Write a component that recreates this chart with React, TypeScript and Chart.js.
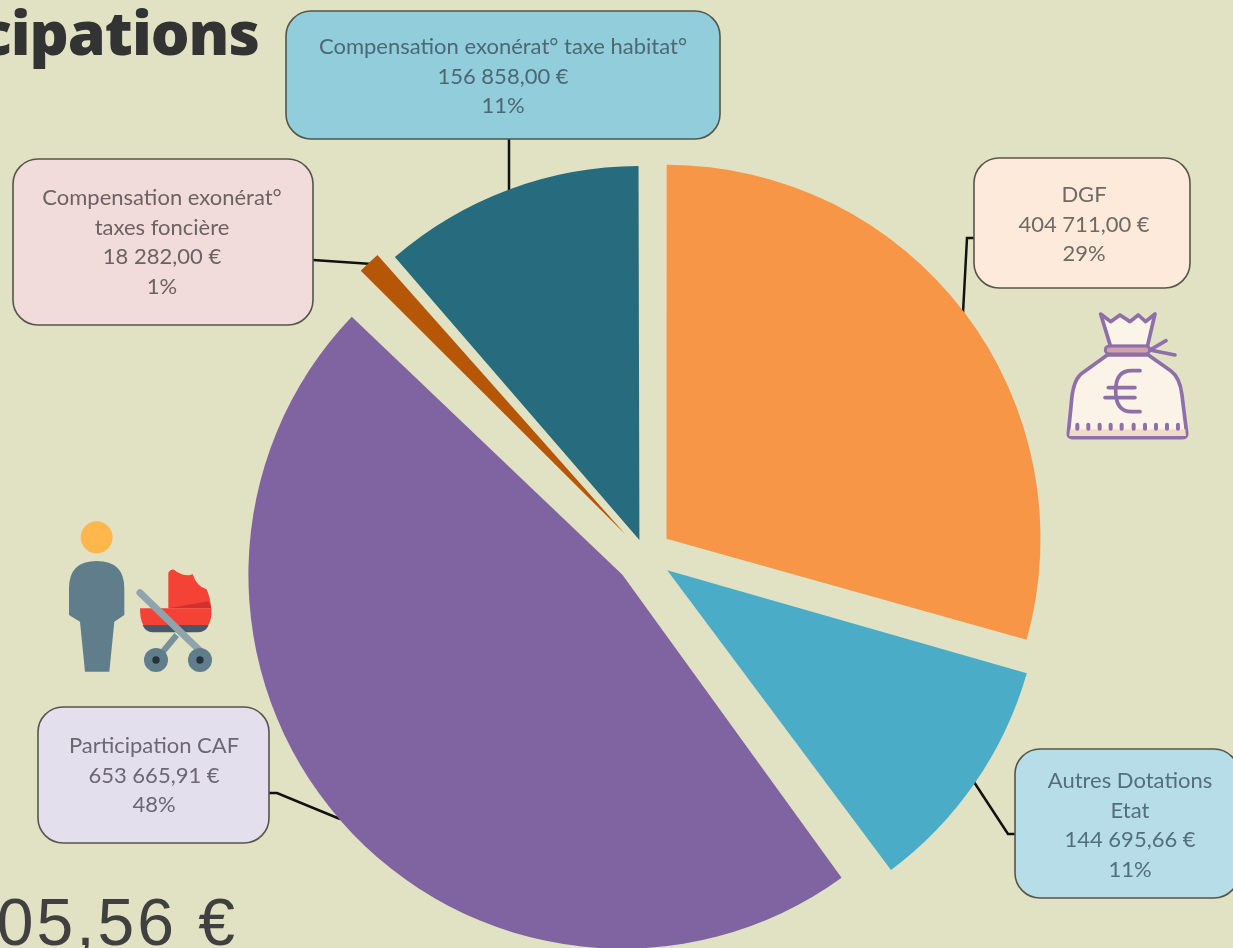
import React, { useEffect, useRef } from "react";
import { Chart, registerables } from "chart.js";

Chart.register(...registerables);

const categories = ["DGF", "Autres Dotations Etat", "Participation CAF", "Compensation exonérat° taxes foncière", "Compensation exonérat° taxe habitat°"];
const values = [404711.0, 144695.66, 653665.91, 18282.0, 156858.0];
const valueLabels = ["404 711,00 €", "144 695,66 €", "653 665,91 €", "18 282,00 €", "156 858,00 €"];
const percentLabels = ["29%", "11%", "48%", "1%", "11%"];
const nameLines = [["DGF"], ["Autres Dotations", "Etat"], ["Participation CAF"], ["Compensation exonérat°", "taxes foncière"], ["Compensation exonérat° taxe habitat°"]];
const sliceColors = ["#f79646", "#4bacc7", "#8064a2", "#b65708", "#266b7e"];
const sliceShift = [27, 27, 30, 28, 16];
const titleText = "cipations";
const totalText = "05,56 €";

const PIE_RADIUS = 374;
const BG = "#e0e2c3";

const boxes = [
  { x: 974, y: 158, w: 216, h: 130, cx: 1084, y0: 195, fill: "#fdeada", ink: "#6f6a64" },
  { x: 1015, y: 749, w: 224, h: 149, cx: 1130, y0: 781, fill: "#b7dde8", ink: "#536f7d" },
  { x: 38, y: 707, w: 231, h: 136, cx: 154, y0: 746, fill: "#e4dfec", ink: "#6b6773" },
  { x: 13, y: 159, w: 300, h: 166, cx: 162, y0: 198, fill: "#f2dcdb", ink: "#6c6262" },
  { x: 286, y: 11, w: 434, h: 128, cx: 503, y0: 47, fill: "#92cddc", ink: "#4c6874" },
];

const leaders = [
  [[975, 238], [967, 238], [963, 313]],
  [[974, 782], [1008, 834], [1015, 834]],
  [[269, 793], [277, 793], [340, 819]],
  [[313, 260], [372, 264]],
  [[509, 139], [509, 190]],
];

const callouts = {
  id: "callouts",
  beforeDraw(chart: any) {
    const { ctx, width, height } = chart;
    ctx.save();
    ctx.fillStyle = BG;
    ctx.fillRect(0, 0, width, height);
    ctx.restore();
  },
  beforeDatasetsDraw(chart: any) {
    // Chart.js widens offset arcs; keep every slice at the same radius.
    chart.getDatasetMeta(0).data.forEach((arc: any) => {
      const shift = arc.options.offset / 4;
      const fix = 1 - Math.sin(Math.min(Math.PI, arc.circumference));
      arc.outerRadius = PIE_RADIUS - shift * fix;
    });
    const { ctx } = chart;
    ctx.save();
    ctx.strokeStyle = "#111";
    ctx.lineWidth = 2.5;
    leaders.forEach((pts) => {
      ctx.beginPath();
      pts.forEach(([x, y], i) => (i ? ctx.lineTo(x, y) : ctx.moveTo(x, y)));
      ctx.stroke();
    });
    ctx.restore();
  },
  afterDatasetsDraw(chart: any) {
    const { ctx } = chart;
    ctx.save();
    boxes.forEach((b, i) => {
      ctx.beginPath();
      ctx.roundRect(b.x, b.y, b.w, b.h, 25);
      ctx.fillStyle = b.fill;
      ctx.fill();
      ctx.lineWidth = 1.6;
      ctx.strokeStyle = "#55564a";
      ctx.stroke();
      const lines = [...nameLines[i], valueLabels[i], percentLabels[i]];
      ctx.fillStyle = b.ink;
      ctx.font = "22px Lato";
      ctx.textAlign = "center";
      ctx.textBaseline = "middle";
      lines.forEach((t, k) => ctx.fillText(t, b.cx, b.y0 + k * 29.5));
    });
    ctx.textAlign = "right";
    ctx.textBaseline = "alphabetic";
    ctx.fillStyle = "#333333";
    ctx.font = '800 61px "Open Sans"';
    (ctx as any).letterSpacing = "-1px";
    ctx.fillText(titleText, 259, 55);
    ctx.fillStyle = "#404040";
    ctx.font = '400 66px "Liberation Sans"';
    (ctx as any).letterSpacing = "3px";
    ctx.fillText(totalText, 238, 945);
    (ctx as any).letterSpacing = "0px";
    ctx.restore();
  },
};

function MoneyBag() {
  const purple = "#8f6fa9";
  const dots = [382, 415, 449, 482, 515, 551, 585, 618, 651, 684];
  return (
    <g transform="translate(950 140) scale(0.3333)">
      <path d="M452 522 L482 545 L510 525 L540 545 L565 525 L587 545 L615 522 L592 620 H482 Z" fill="#fbf5e8" stroke={purple} strokeWidth={11} strokeLinejoin="round" />
      <path d="M600 630 L648 602 M600 630 L675 645" stroke={purple} strokeWidth={11} strokeLinecap="round" fill="none" />
      <path d="M472 645 L392 703 Q368 725 364 790 L355 880 Q354 893 368 893 H698 Q712 893 710 878 L696 765 Q690 712 662 692 L595 645 Z" fill="#fbf3e7" stroke={purple} strokeWidth={11} strokeLinejoin="round" />
      <path d="M360 868 H706 L708 888 H358 Z" fill="#efdcc6" />
      <rect x={466} y={618} width={133} height={24} rx={12} fill="#cfa1aa" stroke={purple} strokeWidth={9} />
      <path d="M570 692 H545 Q497 692 497 752 Q497 815 545 815 H570 M475 743 H555 M465 773 H555" stroke={purple} strokeWidth={11} strokeLinecap="round" fill="none" />
      {dots.map((x) => (
        <rect key={x} x={x - 6} y={848} width={12} height={24} rx={6} fill={purple} />
      ))}
    </g>
  );
}

function Stroller() {
  return (
    <g transform="translate(0 500) scale(0.3333)">
      <circle cx={290} cy={112} r={48} fill="#ffb74d" />
      <path d="M207 345 V265 Q207 183 290 183 Q373 183 373 265 V345 L343 365 L328 515 H255 L240 365 Z" fill="#607d8b" />
      <path d="M505 218 Q515 200 530 215 Q560 232 578 222 Q590 260 620 268 Q630 290 634 325 H505 Z" fill="#f44336" />
      <path d="M505 325 L626 304 L634 325 Z" fill="#d32f2f" />
      <path d="M420 325 H634 Q636 360 625 375 H430 Q420 360 420 325 Z" fill="#f44336" />
      <path d="M428 375 H626 Q618 397 595 397 H458 Q436 397 428 375 Z" fill="#455a64" />
      <path d="M530 405 L468 480" stroke="#78909c" strokeWidth={18} />
      <path d="M420 278 L600 452" stroke="#90a4ae" strokeWidth={21} strokeLinecap="round" />
      <circle cx={468} cy={480} r={36} fill="#607d8b" />
      <circle cx={468} cy={480} r={11} fill="#263238" />
      <circle cx={600} cy={480} r={36} fill="#607d8b" />
      <circle cx={600} cy={480} r={11} fill="#263238" />
    </g>
  );
}

export default function App() {
  const ref = useRef<HTMLCanvasElement>(null);
  useEffect(() => {
    const chart = new Chart(ref.current!, {
      type: "pie",
      data: {
        labels: categories,
        datasets: [
          {
            data: values,
            backgroundColor: sliceColors,
            borderWidth: 0,
            offset: sliceShift.map((s) => s * 4),
            radius: PIE_RADIUS,
            clip: false,
          } as any,
        ],
      },
      options: {
        responsive: false,
        animation: false,
        layout: { padding: { left: 57, top: 162, right: 0, bottom: 0 } },
        plugins: { legend: { display: false }, tooltip: { enabled: false } },
      },
      plugins: [callouts],
    } as any);
    return () => chart.destroy();
  }, []);
  return (
    <div style={{ position: "relative", width: 1233, height: 948, overflow: "hidden", background: BG }}>
      <style>{"html,body{margin:0;padding:0;background:" + BG + "}"}</style>
      <canvas ref={ref} width={1233} height={948} style={{ display: "block" }} />
      <svg width={1233} height={948} style={{ position: "absolute", left: 0, top: 0, pointerEvents: "none" }}>
        <MoneyBag />
        <Stroller />
      </svg>
    </div>
  );
}
